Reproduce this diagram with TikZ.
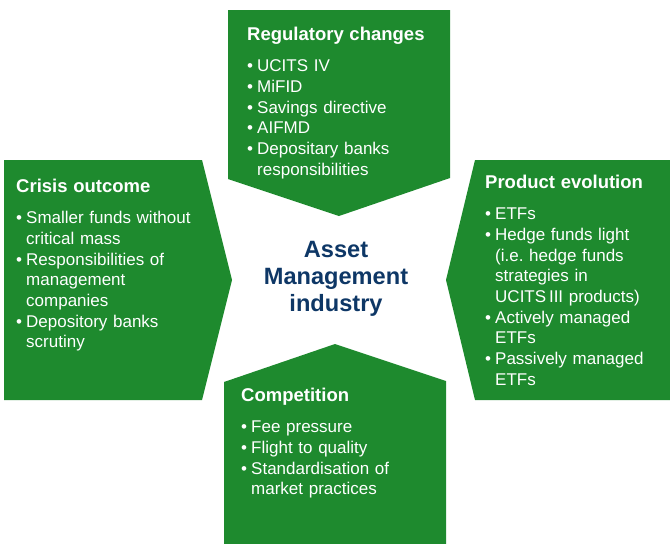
\documentclass[tikz,border=0pt]{standalone}
\usepackage{fontspec}
\setmainfont{Liberation Sans}
\usetikzlibrary{positioning}
\definecolor{panelgreen}{RGB}{30,138,46}
\definecolor{hubblue}{RGB}{14,55,102}
\newcommand{\panelhead}[1]{{\fontsize{18.5}{22}\selectfont\bfseries #1}\par\vspace{11pt}}
\newcommand{\bitem}[1]{\par\leftskip=10pt\noindent\llap{\makebox[10pt][l]{\textbullet}}#1}

\begin{document}
\begin{tikzpicture} [x=1pt, y=-1pt,
    panel/.style={fill=panelgreen},
    paneltext/.style={anchor=base west, text width=#1, align=left, inner sep=0pt,
        text=white, font=\fontsize{17}{20.7}\selectfont}]

\useasboundingbox (0,0) rectangle (670,544);

% the four arrows
\fill [panel] (228,10) -- (450,10) -- (450,178) -- (339,216) -- (228,179) -- cycle;
\fill [panel] (4,160) -- (202,160) -- (232,280) -- (202,400) -- (4,400) -- cycle;
\fill [panel] (670,160) -- (475,160) -- (446,280) -- (475,400) -- (670,400) -- cycle;
\fill [panel] (224,544) -- (224,382) -- (335,344) -- (446,381) -- (446,544) -- cycle;

\node [paneltext=200pt] (reg) at (247,40) {\panelhead{Regulatory changes}
    \bitem{UCITS IV}
    \bitem{MiFID}
    \bitem{Savings directive}
    \bitem{AIFMD}
    \bitem{Depositary banks\newline responsibilities}\par};

\node [paneltext=185pt] (crisis) at (16,192) {\panelhead{Crisis outcome}
    \bitem{Smaller funds without\newline critical mass}
    \bitem{Responsibilities of\newline management\newline companies}
    \bitem{Depository banks\newline scrutiny}\par};

\node [paneltext=180pt] (prod) at (485,188) {\panelhead{Product evolution}
    \bitem{ETFs}
    \bitem{Hedge funds light\newline (i.e.\ hedge funds\newline strategies in\newline UCITS\,III products)}
    \bitem{Actively managed\newline ETFs}
    \bitem{Passively managed\newline ETFs}\par};

\node [paneltext=195pt] (comp) at (241,401) {\panelhead{Competition}
    \bitem{Fee pressure}
    \bitem{Flight to quality}
    \bitem{Standardisation of\newline market practices}\par};

\node [align=center, inner sep=0pt, text=hubblue,
    font=\fontsize{23.6}{26.7}\selectfont\bfseries] (hub) at (336,279)
    {Asset\\Management\\industry};

\end{tikzpicture}
\end{document}
